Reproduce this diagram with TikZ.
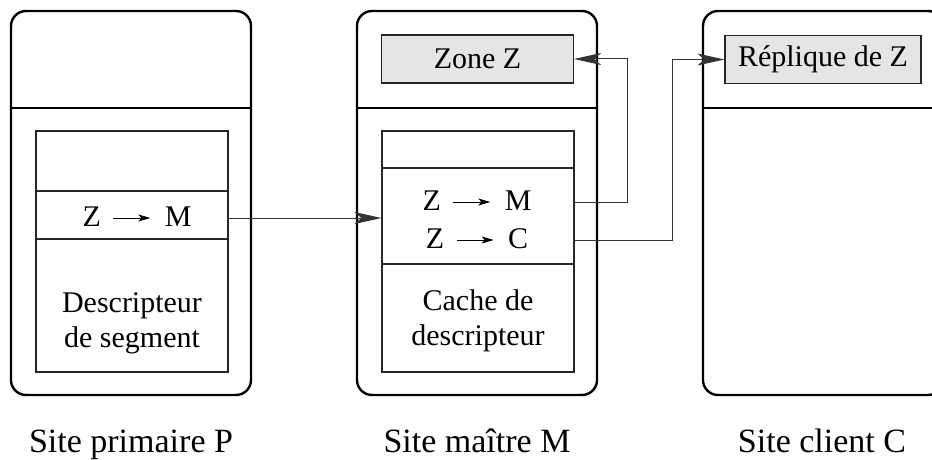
\documentclass[tikz,border=0pt]{standalone}
\usepackage{fontspec}
\setmainfont{Liberation Serif}
\usetikzlibrary{arrows.meta,calc}
\newcommand\zarrow{\tikz[baseline=0pt,x=1pt,y=1pt]\draw[line width=1pt,-{Stealth[length=12pt,width=7pt,inset=3pt]}] (0,8) -- (37,8);}
\newcommand\ztxt[1]{Z\hspace{12pt}\zarrow\hspace{14pt}#1}
\tikzset{
  sitebox/.style={draw=black,line width=2.4pt,rounded corners=15pt,rectangle,minimum width=240pt,minimum height=384pt,inner sep=0pt},
  innerbox/.style={draw=black!85,line width=1.2pt,rectangle,minimum width=192pt,minimum height=241pt,inner sep=0pt},
  zonebox/.style={draw=black!85,fill=black!10,line width=1.2pt,rectangle,minimum width=192pt,minimum height=48pt,inner sep=0pt,font=\fontsize{30}{35}\selectfont},
  txt/.style={font=\fontsize{30}{35}\selectfont,inner sep=0pt,align=center},
  lbl/.style={font=\fontsize{34}{40}\selectfont,inner sep=0pt,anchor=base},
  divline/.style={draw=black,line width=2.4pt},
  rowline/.style={draw=black!85,line width=1.2pt},
  conn/.style={draw=black!80,line width=1pt,-{Stealth[length=27pt,width=12pt,inset=7pt]}}
}
\begin{document}
\begin{tikzpicture}[x=1pt,y=-1pt]
\useasboundingbox (0,0) rectangle (932,460);
% outer site boxes
\node[sitebox] (sp) at (131,203) {};
\node[sitebox] (sm) at (477,203) {};
\node[sitebox] (sc) at (823,203) {};
\foreach \s in {sp,sm,sc}{\draw[divline] (\s.west |- 0,108) -- (\s.east |- 0,108);}
% zone boxes
\node[zonebox] (zonez) at (477.5,59) {Zone Z};
\node[zonebox,minimum width=196pt] (repl) at (823,59.5) {Réplique de Z};
% inner boxes
\node[innerbox] (pbox) at (132,251.5) {};
\node[innerbox] (mbox) at (478,251.5) {};
\draw[rowline] (pbox.west |- 0,191) -- (pbox.east |- 0,191);
\draw[rowline] (pbox.west |- 0,239) -- (pbox.east |- 0,239);
\draw[rowline] (mbox.west |- 0,168) -- (mbox.east |- 0,168);
\draw[rowline] (mbox.west |- 0,264) -- (mbox.east |- 0,264);
% texts
\node[txt,anchor=base] (pzm) at (137,226) {\ztxt{M}};
\node[txt,anchor=base] (mzm) at (477,210) {\ztxt{M}};
\node[txt,anchor=base] (mzc) at (477,248) {\ztxt{C}};
\node[txt,anchor=base] (pdesc) at (132,347) {Descripteur\\de segment};
\node[txt,anchor=base] (mdesc) at (478,345) {Cache de\\descripteur};
% labels
\node[lbl] (lp) at (131,452) {Site primaire P};
\node[lbl] (lm) at (477,452) {Site maître M};
\node[lbl] (lc) at (822,452) {Site client C};
% connectors
\draw[conn] ([yshift=8pt]pzm.base -| pbox.east) -- ([yshift=8pt]pzm.base -| mbox.west);
\draw[conn] ([yshift=8pt]mzm.base -| mbox.east) -- ++(53,0) |- (zonez.east);
\draw[conn] ([yshift=8pt]mzc.base -| mbox.east) -- ++(98,0) |- (repl.west);
\end{tikzpicture}
\end{document}
